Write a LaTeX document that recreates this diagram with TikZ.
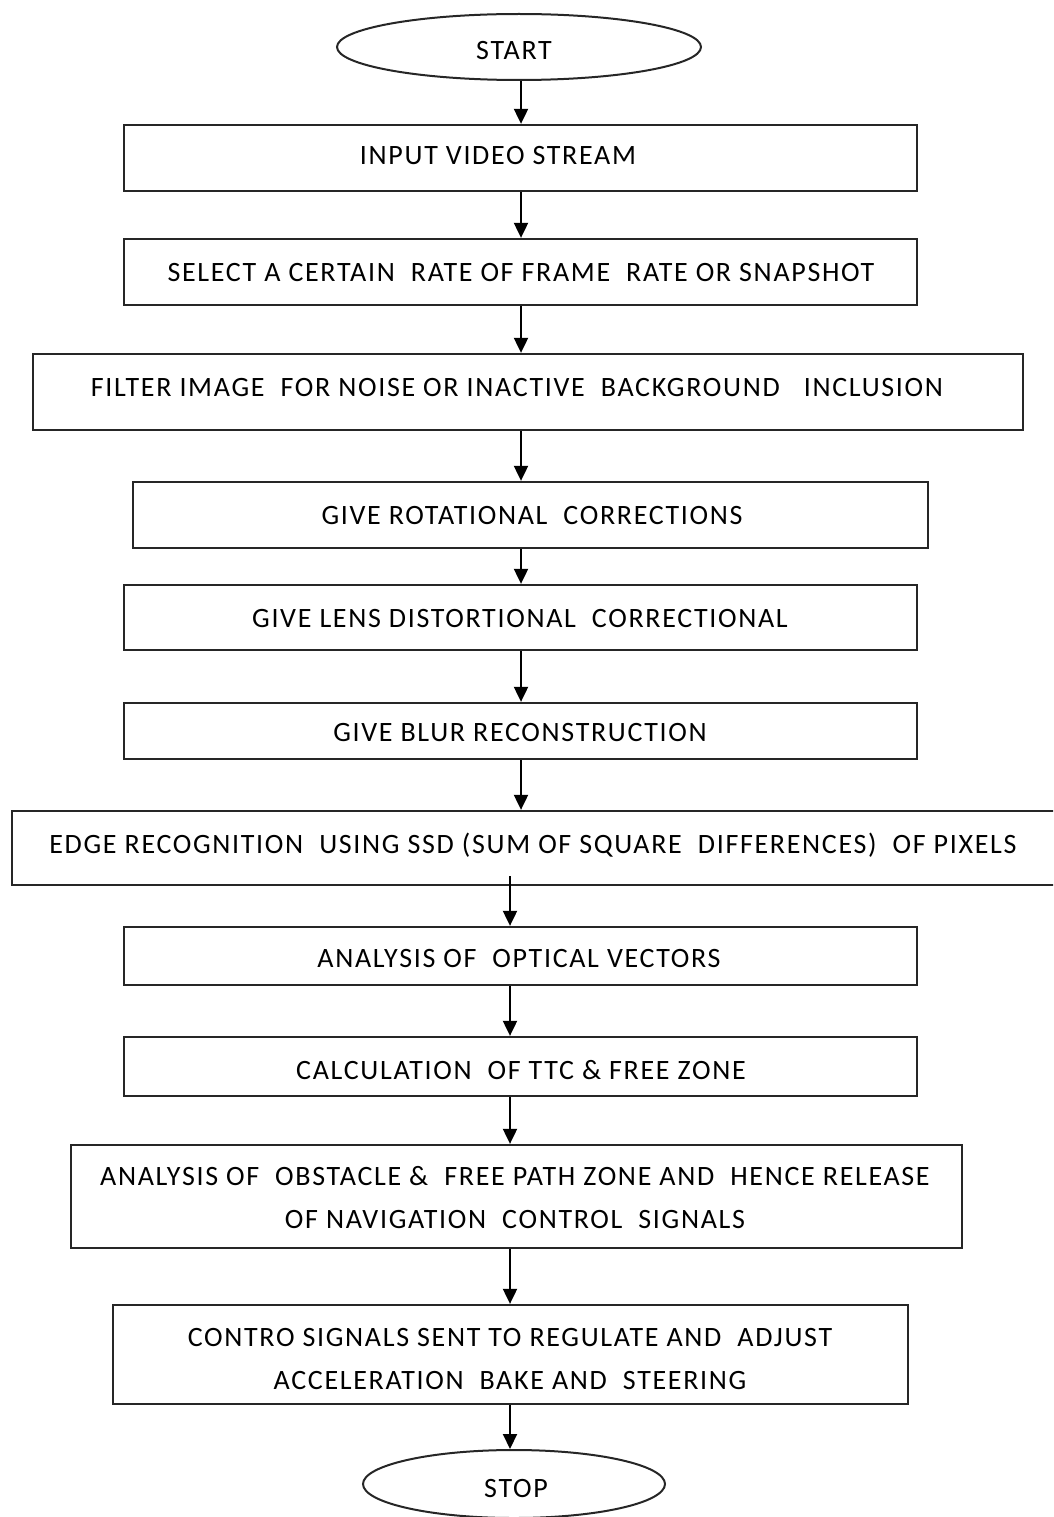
\documentclass[tikz,border=0pt]{standalone}
\usepackage{fontspec}
\setmainfont{Carlito}[LetterSpace=6]
\usetikzlibrary{shapes.geometric,arrows.meta}
\begin{document}
\begin{tikzpicture}[x=1pt,y=-1pt,
  box/.style={draw=black!85,line width=2.3pt,rectangle,inner sep=0pt},
  term/.style={draw=black!85,line width=2pt,ellipse,inner sep=0pt},
  txt/.style={anchor=base,inner sep=0pt,align=center,font=\fontsize{28}{43}\selectfont},
  arr/.style={draw=black,line width=2pt,-{Triangle[length=15pt,width=14pt]}}]
\useasboundingbox (0,0) rectangle (1053,1517);
\clip (0,0) rectangle (1053,1517);
% the two arrow columns
\coordinate (ax) at (521,0);
\coordinate (bx) at (510,0);
% terminals and process boxes
\node[term,minimum width=364pt,minimum height=66pt] (start) at (519,47) {};
\node[box,minimum width=793pt,minimum height=66pt] (b1) at (520.5,158) {};
\node[box,minimum width=793pt,minimum height=66pt] (b2) at (520.5,272) {};
\node[box,minimum width=990pt,minimum height=76pt] (b3) at (528,392) {};
\node[box,minimum width=795pt,minimum height=66pt] (b4) at (530.5,515) {};
\node[box,minimum width=793pt,minimum height=65pt] (b5) at (520.5,617.5) {};
\node[box,minimum width=793pt,minimum height=56pt] (b6) at (520.5,731) {};
\node[box,minimum width=1048pt,minimum height=74pt] (b7) at (536,848) {};
\node[box,minimum width=793pt,minimum height=58pt] (b8) at (520.5,956) {};
\node[box,minimum width=793pt,minimum height=59pt] (b9) at (520.5,1066.5) {};
\node[box,minimum width=891pt,minimum height=103pt] (b10) at (516.5,1196.5) {};
\node[box,minimum width=795pt,minimum height=99pt] (b11) at (510.5,1354.5) {};
\node[term,minimum width=302pt,minimum height=68pt] (stop) at (514,1484) {};
% labels (base anchor sits on the last line)
\node[txt] at (514,60) {START};
\node[txt] at (498,165) {INPUT VIDEO STREAM};
\node[txt] at (521,281) {SELECT A CERTAIN\ \ RATE OF FRAME\ \ RATE OR SNAPSHOT};
\node[txt] at (517,396) {FILTER IMAGE\ \ FOR NOISE OR INACTIVE\ \ BACKGROUND\ \ \ INCLUSION};
\node[txt] at (532,524) {GIVE ROTATIONAL\ \ CORRECTIONS};
\node[txt] at (520,627) {GIVE LENS DISTORTIONAL\ \ CORRECTIONAL};
\node[txt] at (520,741) {GIVE BLUR RECONSTRUCTION};
\node[txt] at (533,853) {EDGE RECOGNITION\ \ USING SSD (SUM OF SQUARE\ \ DIFFERENCES)\ \ OF PIXELS};
\node[txt] at (519,967) {ANALYSIS OF\ \ OPTICAL VECTORS};
\node[txt] at (521,1079) {CALCULATION\ \ OF TTC \& FREE ZONE};
\node[txt] at (515,1228) {ANALYSIS OF\ \ OBSTACLE \&\ \ FREE PATH ZONE AND\ \ HENCE RELEASE\\OF NAVIGATION\ \ CONTROL\ \ SIGNALS};
\node[txt] at (510,1389) {CONTRO SIGNALS SENT TO REGULATE AND\ \ ADJUST\\ACCELERATION\ \ BAKE AND\ \ STEERING};
\node[txt] at (516,1497) {STOP};
% connectors
\draw[arr] (start.south -| ax) -- (b1.north -| ax);
\draw[arr] (b1.south -| ax) -- (b2.north -| ax);
\draw[arr] (b2.south -| ax) -- (b3.north -| ax);
\draw[arr] (b3.south -| ax) -- (b4.north -| ax);
\draw[arr] (b4.south -| ax) -- (b5.north -| ax);
\draw[arr] (b5.south -| ax) -- (b6.north -| ax);
\draw[arr] (b6.south -| ax) -- (b7.north -| ax);
\draw[arr] ([yshift=10pt]b7.south -| bx) -- (b8.north -| bx);
\draw[arr] (b8.south -| bx) -- (b9.north -| bx);
\draw[arr] (b9.south -| bx) -- (b10.north -| bx);
\draw[arr] (b10.south -| bx) -- (b11.north -| bx);
\draw[arr] (b11.south -| bx) -- (stop.north -| bx);
\end{tikzpicture}
\end{document}
